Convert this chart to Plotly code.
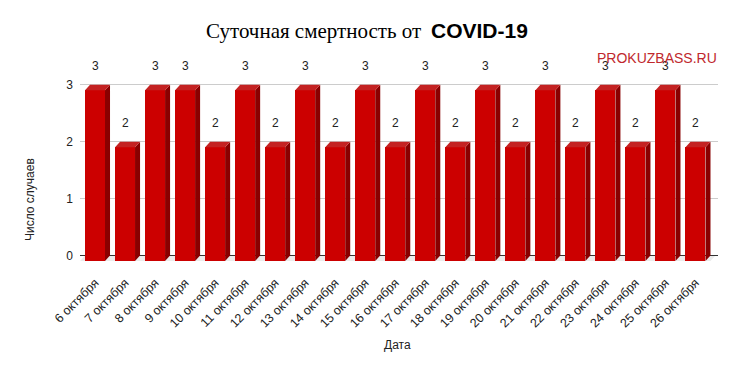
import plotly.graph_objects as go

# ---- data ----
dates = ["6 октября", "7 октября", "8 октября", "9 октября", "10 октября",
         "11 октября", "12 октября", "13 октября", "14 октября", "15 октября",
         "16 октября", "17 октября", "18 октября", "19 октября", "20 октября",
         "21 октября", "22 октября", "23 октября", "24 октября", "25 октября",
         "26 октября"]
deaths = [3, 2, 3, 3, 2, 3, 2, 3, 2, 3, 2, 3, 2, 3, 2, 3, 2, 3, 2, 3, 2]
y_ticks = [0, 1, 2, 3]

# ---- style / geometry ----
FRONT = "#cc0000"
SIDE = "#8a0000"
TOP = "#c42222"
BAR_W = 0.666           # bar width in category units
DX = 0.167              # 3D depth in x (category units)
DY = 0.096              # 3D depth in y (value units)
FONT = "Liberation Sans, Arial, sans-serif"
W, H = 737, 371
L, R, T, B = 80, 19, 82, 99
Y_RANGE = [-0.29, 3.05]

def px(xpix):
    return (xpix - L) / (W - L - R)

def py(ypix):
    return 1 - (ypix - T) / (H - T - B)

xs = list(range(len(dates)))
n = len(dates)

fig = go.Figure()

# floor (drawn under traces)
floor_path = (f"M {-0.5} {-DY} L {n - 0.5} {-DY} L {n - 0.5 + DX} 0 "
              f"L {-0.5 + DX} 0 Z")
fig.add_shape(type="path", path=floor_path, xref="x", yref="y",
              fillcolor="#ebebeb", line=dict(width=0), layer="below")

# side and top faces
side_x, side_y, top_x, top_y = [], [], [], []
for x, v in zip(xs, deaths):
    xl, xr = x - BAR_W / 2, x + BAR_W / 2
    side_x += [xr, xr + DX, xr + DX, xr, xr, None]
    side_y += [-DY, 0, v, v - DY, -DY, None]
    top_x += [xl, xl + DX, xr + DX, xr, xl, None]
    top_y += [v - DY, v, v, v - DY, v - DY, None]

fig.add_trace(go.Scatter(x=side_x, y=side_y, mode="lines", fill="toself",
                         fillcolor=SIDE, line=dict(width=0, color=SIDE),
                         hoverinfo="skip", showlegend=False))
fig.add_trace(go.Scatter(x=top_x, y=top_y, mode="lines", fill="toself",
                         fillcolor=TOP, line=dict(width=0, color=TOP),
                         hoverinfo="skip", showlegend=False))

# front faces
fig.add_trace(go.Bar(x=xs, y=deaths, base=[-DY] * n, width=BAR_W,
                     marker=dict(color=FRONT, line=dict(width=0)),
                     showlegend=False))

# value labels
for x, v in zip(xs, deaths):
    fig.add_annotation(x=x, y=v - DY, text=str(v), showarrow=False,
                       yanchor="middle", yshift=24,
                       font=dict(family=FONT, size=12, color="#222222"))

# title (two parts, two fonts)
fig.add_annotation(xref="paper", yref="paper", x=px(423), y=py(31),
                   xanchor="right", yanchor="middle",
                   text="Суточная смертность от", showarrow=False,
                   font=dict(family="Liberation Serif, Times New Roman, serif",
                             size=21, color="#000000"))
fig.add_annotation(xref="paper", yref="paper", x=px(429), y=py(30),
                   xanchor="left", yanchor="middle",
                   text="<b>COVID-19</b>", showarrow=False,
                   font=dict(family=FONT, size=21, color="#000000"))

# watermark
fig.add_annotation(xref="paper", yref="paper", x=px(719), y=py(58),
                   xanchor="right", yanchor="middle", text="PROKUZBASS.RU",
                   showarrow=False,
                   font=dict(family=FONT, size=14, color="#c0282d"))

# axis titles
fig.add_annotation(xref="paper", yref="paper", x=px(30), y=py(199),
                   xanchor="center", yanchor="middle",
                   text="Число случаев", textangle=-90, showarrow=False,
                   font=dict(family=FONT, size=12, color="#222222"))
fig.add_annotation(xref="paper", yref="paper", x=px(397), y=py(345),
                   xanchor="center", yanchor="middle",
                   text="Дата", showarrow=False,
                   font=dict(family=FONT, size=12, color="#222222"))

fig.update_layout(
    width=W, height=H,
    margin=dict(l=L, r=R, t=T, b=B, autoexpand=False),
    paper_bgcolor="white", plot_bgcolor="white",
    bargap=0,
    xaxis=dict(range=[-0.5, n - 0.5 + 0.25], tickmode="array",
               tickvals=xs, ticktext=dates, tickangle=-45, automargin=False,
               showgrid=False, zeroline=False, showline=False,
               tickfont=dict(family=FONT, size=12.5, color="#222222")),
    yaxis=dict(range=Y_RANGE, tickmode="array", tickvals=y_ticks,
               showgrid=True, gridcolor="#cccccc", gridwidth=1,
               zeroline=True, zerolinecolor="#333333", zerolinewidth=1,
               showline=False, ticklabelstandoff=6, automargin=False,
               tickfont=dict(family=FONT, size=12, color="#222222")),
    font=dict(family=FONT),
)

fig.write_html("out.html",
               config={"displayModeBar": False},
               post_script="document.body.style.margin='0px';"
                           "document.body.style.overflow='hidden';")
